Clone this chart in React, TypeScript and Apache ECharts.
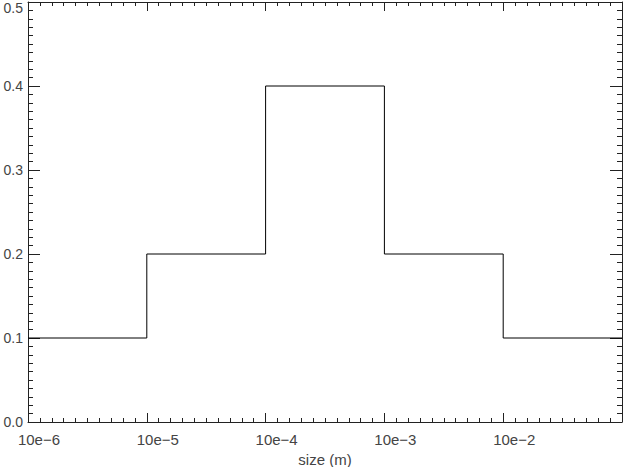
import React, { useEffect, useRef } from "react";
import * as echarts from "echarts";

const decadeLabels = ["10e\u22126", "10e\u22125", "10e\u22124", "10e\u22123", "10e\u22122"];
const binEdges = [0, 1, 2, 3, 4, 5];
const binValues = [0.1, 0.2, 0.4, 0.2, 0.1, 0.1];
const xTitle = "size (m)";

const FONT = "Liberation Sans";
const AXIS_COLOR = "#222";
const TEXT_COLOR = "#444";

export default function App() {
  const ref = useRef<HTMLDivElement>(null);
  useEffect(() => {
    if (!ref.current) return;
    const chart = echarts.init(ref.current, undefined, { renderer: "svg" });
    const xCommon = {
      type: "value",
      min: 0,
      max: 5,
      interval: 1,
      axisLine: { show: true, onZero: false, lineStyle: { color: AXIS_COLOR, width: 1 } },
      axisTick: { show: true, inside: true, length: 9, lineStyle: { color: AXIS_COLOR } },
      minorTick: { show: true, splitNumber: 10, length: 4, lineStyle: { color: AXIS_COLOR } },
      splitLine: { show: false },
    };
    const yCommon = {
      type: "value",
      min: 0,
      max: 0.5,
      interval: 0.1,
      axisLine: { show: true, onZero: false, lineStyle: { color: AXIS_COLOR, width: 1 } },
      axisTick: { show: true, inside: true, length: 12, lineStyle: { color: AXIS_COLOR } },
      minorTick: { show: true, splitNumber: 10, length: 5, lineStyle: { color: AXIS_COLOR } },
      splitLine: { show: false },
    };
    chart.setOption({
      animation: false,
      backgroundColor: "#ffffff",
      grid: {
        left: 28,
        right: 1,
        top: 2,
        bottom: 45,
        containLabel: false,
        outerBoundsMode: "none",
      },
      xAxis: [
        {
          ...xCommon,
          position: "bottom",
          name: xTitle,
          nameLocation: "middle",
          nameGap: 29,
          nameTextStyle: { fontFamily: FONT, fontSize: 15, color: TEXT_COLOR },
          axisLabel: {
            show: true,
            margin: 10,
            fontFamily: FONT,
            fontSize: 15,
            color: TEXT_COLOR,
            padding: [0, 0, 0, 22],
            formatter: (v: number) => decadeLabels[Math.round(v)] ?? "",
          },
        },
        {
          ...xCommon,
          position: "top",
          axisLabel: { show: false },
        },
      ],
      yAxis: [
        {
          ...yCommon,
          position: "left",
          axisLabel: {
            show: true,
            margin: 5,
            fontFamily: FONT,
            fontSize: 14,
            color: TEXT_COLOR,
            formatter: (v: number) =>
              v >= 0.5 ? "{top|" + v.toFixed(1) + "}" : v.toFixed(1),
            rich: {
              top: {
                fontFamily: FONT,
                fontSize: 14,
                color: TEXT_COLOR,
                padding: [12, 0, 0, 0],
              },
            },
          },
        },
        {
          ...yCommon,
          position: "right",
          axisLabel: { show: false },
        },
      ],
      series: [
        {
          type: "line",
          step: "end",
          xAxisIndex: 0,
          yAxisIndex: 0,
          symbol: "none",
          lineStyle: { color: "#000", width: 1 },
          data: binEdges.map((x, i) => [x, binValues[i]]),
        },
      ],
    });
    return () => chart.dispose();
  }, []);
  return (
    <div
      ref={ref}
      style={{ position: "fixed", left: 0, top: 0, width: 623, height: 467 }}
    />
  );
}
